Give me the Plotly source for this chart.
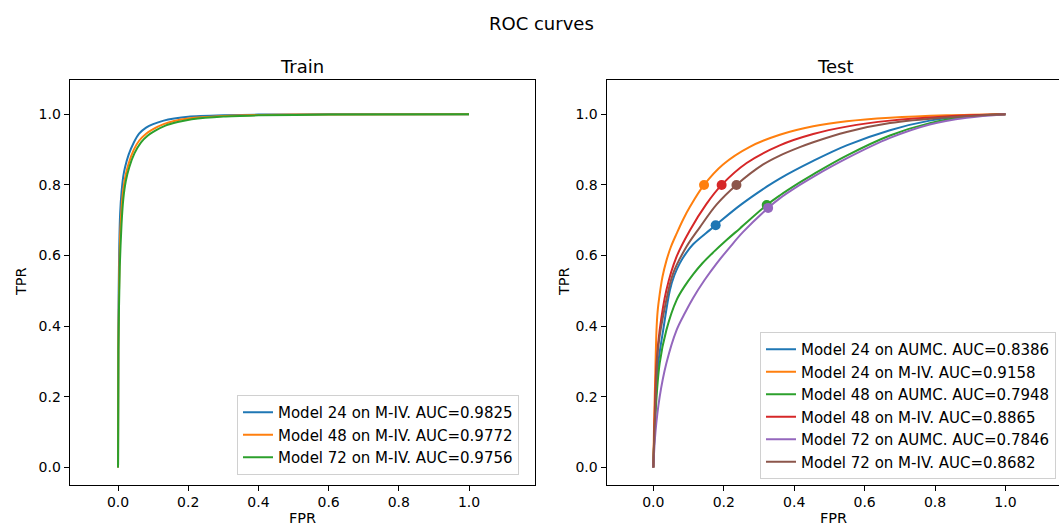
import plotly.graph_objects as go

W, H = 1059, 527

# ---------------- data ----------------
train_names = ["Model 24 on M-IV. AUC=0.9825",
               "Model 48 on M-IV. AUC=0.9772",
               "Model 72 on M-IV. AUC=0.9756"]
train_fpr_24 = [0, 0.001, 0.003, 0.006, 0.01, 0.015, 0.02, 0.03, 0.045, 0.06, 0.08, 0.1, 0.13, 0.16, 0.2, 0.3, 0.4, 0.6, 1.0]
train_tpr_24 = [0, 0.40, 0.60, 0.72, 0.78, 0.825, 0.85, 0.885, 0.92, 0.945, 0.962, 0.972, 0.982, 0.988, 0.993, 0.997, 0.999, 1.0, 1.0]
train_fpr_48 = [0, 0.001, 0.004, 0.008, 0.013, 0.02, 0.03, 0.045, 0.06, 0.08, 0.1, 0.13, 0.16, 0.2, 0.3, 0.4, 0.6, 1.0]
train_tpr_48 = [0, 0.35, 0.58, 0.70, 0.77, 0.82, 0.86, 0.90, 0.925, 0.945, 0.958, 0.972, 0.981, 0.988, 0.995, 0.998, 0.9995, 1.0]
train_fpr_72 = [0, 0.001, 0.005, 0.01, 0.015, 0.022, 0.032, 0.047, 0.065, 0.085, 0.105, 0.135, 0.17, 0.21, 0.3, 0.4, 0.6, 1.0]
train_tpr_72 = [0, 0.33, 0.57, 0.69, 0.76, 0.81, 0.85, 0.89, 0.92, 0.94, 0.953, 0.968, 0.978, 0.986, 0.994, 0.997, 0.999, 1.0]

test_names = ["Model 24 on AUMC. AUC=0.8386",
              "Model 24 on M-IV. AUC=0.9158",
              "Model 48 on AUMC. AUC=0.7948",
              "Model 48 on M-IV. AUC=0.8865",
              "Model 72 on AUMC. AUC=0.7846",
              "Model 72 on M-IV. AUC=0.8682"]
test_fpr_24_aumc = [0, 0.005, 0.014, 0.028, 0.047, 0.06, 0.075, 0.093, 0.113, 0.16, 0.177, 0.246, 0.322, 0.359, 0.454, 0.549, 0.672, 0.785, 0.89, 1.0]
test_tpr_24_aumc = [0, 0.15, 0.295, 0.389, 0.502, 0.545, 0.578, 0.607, 0.632, 0.672, 0.686, 0.742, 0.795, 0.818, 0.868, 0.912, 0.955, 0.982, 0.995, 1.0]
test_fpr_24_miv = [0, 0.002, 0.004, 0.009, 0.012, 0.018, 0.026, 0.037, 0.05, 0.066, 0.085, 0.104, 0.144, 0.198, 0.274, 0.359, 0.454, 0.549, 0.672, 0.833, 1.0]
test_tpr_24_miv = [0, 0.12, 0.20, 0.389, 0.44, 0.49, 0.54, 0.585, 0.625, 0.662, 0.703, 0.738, 0.80, 0.858, 0.908, 0.942, 0.966, 0.980, 0.990, 0.997, 1.0]
test_fpr_48_aumc = [0, 0.006, 0.018, 0.037, 0.066, 0.09, 0.113, 0.14, 0.17, 0.208, 0.246, 0.322, 0.359, 0.416, 0.454, 0.549, 0.672, 0.785, 0.89, 1.0]
test_tpr_48_aumc = [0, 0.15, 0.295, 0.389, 0.474, 0.515, 0.547, 0.579, 0.609, 0.644, 0.677, 0.743, 0.770, 0.807, 0.830, 0.883, 0.940, 0.975, 0.993, 1.0]
test_fpr_48_miv = [0, 0.004, 0.009, 0.018, 0.037, 0.066, 0.104, 0.15, 0.194, 0.265, 0.359, 0.454, 0.549, 0.672, 0.833, 1.0]
test_tpr_48_miv = [0, 0.15, 0.295, 0.389, 0.502, 0.597, 0.672, 0.745, 0.80, 0.862, 0.912, 0.944, 0.965, 0.982, 0.994, 1.0]
test_fpr_72_aumc = [0, 0.006, 0.018, 0.037, 0.066, 0.09, 0.113, 0.145, 0.18, 0.22, 0.255, 0.326, 0.359, 0.416, 0.454, 0.549, 0.672, 0.785, 0.89, 1.0]
test_tpr_72_aumc = [0, 0.10, 0.20, 0.295, 0.389, 0.438, 0.480, 0.530, 0.578, 0.627, 0.667, 0.735, 0.762, 0.800, 0.823, 0.875, 0.933, 0.971, 0.990, 1.0]
test_fpr_72_miv = [0, 0.005, 0.014, 0.033, 0.056, 0.094, 0.132, 0.18, 0.236, 0.312, 0.359, 0.416, 0.454, 0.549, 0.672, 0.833, 1.0]
test_tpr_72_miv = [0, 0.15, 0.342, 0.455, 0.549, 0.625, 0.680, 0.745, 0.80, 0.858, 0.883, 0.907, 0.921, 0.950, 0.975, 0.991, 1.0]

# operating points on the test curves
point_fpr = [0.177, 0.144, 0.322, 0.194, 0.326, 0.236]
point_tpr = [0.686, 0.800, 0.743, 0.800, 0.735, 0.800]

tick_vals = [0.0, 0.2, 0.4, 0.6, 0.8, 1.0]
colors = ["#1f77b4", "#ff7f0e", "#2ca02c", "#d62728", "#9467bd", "#8c564b"]

FONT = "DejaVu Sans"
TICK_FS = 14
LEG_FS = 15
LAB_FS = 14.5
TITLE_FS = 18

fig = go.Figure()

train_curves = [(train_fpr_24, train_tpr_24), (train_fpr_48, train_tpr_48), (train_fpr_72, train_tpr_72)]
for i, (fx, ty) in enumerate(train_curves):
    fig.add_trace(go.Scatter(x=fx, y=ty, mode="lines", name=train_names[i],
                             line=dict(color=colors[i], width=2, shape="spline", smoothing=0.6),
                             xaxis="x", yaxis="y", legend="legend2"))

test_curves = [(test_fpr_24_aumc, test_tpr_24_aumc), (test_fpr_24_miv, test_tpr_24_miv),
               (test_fpr_48_aumc, test_tpr_48_aumc), (test_fpr_48_miv, test_tpr_48_miv),
               (test_fpr_72_aumc, test_tpr_72_aumc), (test_fpr_72_miv, test_tpr_72_miv)]
for i, (fx, ty) in enumerate(test_curves):
    fig.add_trace(go.Scatter(x=fx, y=ty, mode="lines", name=test_names[i],
                             line=dict(color=colors[i], width=2, shape="spline", smoothing=1.0),
                             xaxis="x2", yaxis="y2", legend="legend"))
for i in range(len(point_fpr)):
    fig.add_trace(go.Scatter(x=[point_fpr[i]], y=[point_tpr[i]], mode="markers",
                             marker=dict(color=colors[i], size=10), showlegend=False,
                             xaxis="x2", yaxis="y2", hoverinfo="skip"))

def px_x(p):
    return p / W

def px_y(p):
    return 1 - p / H

ydom = [px_y(484.5), px_y(80)]
axis_common = dict(showgrid=False, zeroline=False, showline=True, linecolor="black", linewidth=1,
                   ticks="outside", ticklen=5, tickwidth=1, tickcolor="black",
                   tickvals=tick_vals, tickformat=".1f",
                   tickfont=dict(family=FONT, size=TICK_FS, color="black"))

fig.update_layout(
    width=W, height=H,
    margin=dict(l=0, r=0, t=0, b=0, autoexpand=False),
    plot_bgcolor="white", paper_bgcolor="white",
    font=dict(family=FONT, size=TICK_FS, color="black"),
    xaxis=dict(domain=[px_x(69.6), px_x(535)], range=[-0.138, 1.188], mirror=True, anchor="y", **axis_common),
    yaxis=dict(domain=ydom, range=[-0.048, 1.097], mirror=True, anchor="x", **axis_common),
    xaxis2=dict(domain=[px_x(606.5), 1.0], range=[-0.133, 1.152], mirror=True, anchor="y2", **axis_common),
    yaxis2=dict(domain=ydom, range=[-0.048, 1.097], mirror=False, anchor="x2", **axis_common),
    legend=dict(x=px_x(760), y=px_y(332), xanchor="left", yanchor="top",
                bgcolor="rgba(255,255,255,0.8)", bordercolor="#d0d0d0", borderwidth=1,
                font=dict(family=FONT, size=LEG_FS, color="black"), itemwidth=30),
    legend2=dict(x=px_x(237), y=px_y(395), xanchor="left", yanchor="top",
                 bgcolor="rgba(255,255,255,0.8)", bordercolor="#d0d0d0", borderwidth=1,
                 font=dict(family=FONT, size=LEG_FS, color="black"), itemwidth=30),
    showlegend=True,
)

annotations = [
    dict(text="ROC curves", x=px_x(541), y=px_y(24), size=TITLE_FS),
    dict(text="Train", x=px_x(302), y=px_y(66), size=TITLE_FS),
    dict(text="Test", x=px_x(835), y=px_y(66), size=TITLE_FS),
    dict(text="TPR", x=px_x(21), y=px_y(282), size=LAB_FS, angle=-90),
    dict(text="TPR", x=px_x(564), y=px_y(282), size=LAB_FS, angle=-90),
    dict(text="FPR", x=px_x(302), y=px_y(518), size=LAB_FS),
    dict(text="FPR", x=px_x(833), y=px_y(518), size=LAB_FS),
]
for a in annotations:
    fig.add_annotation(xref="paper", yref="paper", showarrow=False,
                       xanchor="center", yanchor="middle",
                       text=a["text"], x=a["x"], y=a["y"], textangle=a.get("angle", 0),
                       font=dict(family=FONT, size=a["size"], color="black"))

fig.write_html("out.html", config={"displayModeBar": False},
               post_script="document.body.style.margin='0';document.body.style.padding='0';")
